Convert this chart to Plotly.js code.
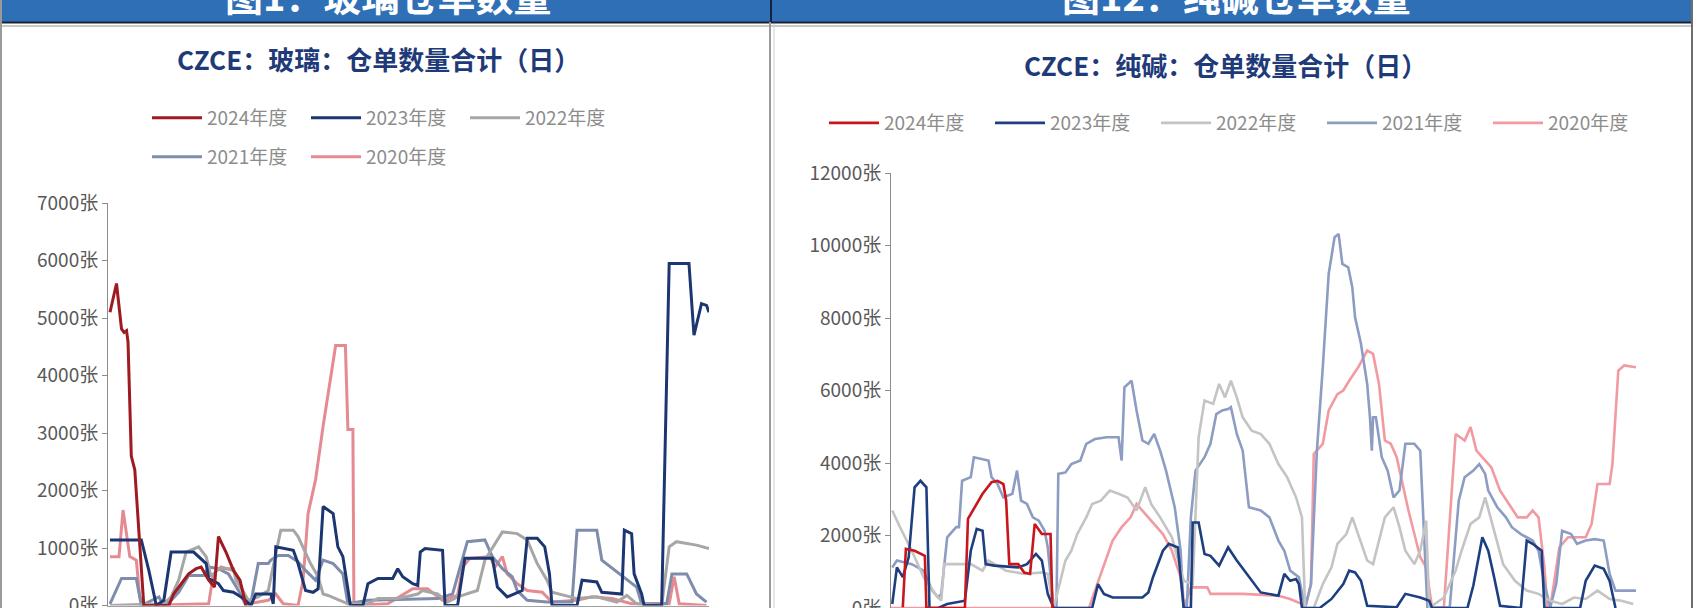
<!DOCTYPE html>
<html><head><meta charset="utf-8">
<script src="https://cdn.plot.ly/plotly-3.0.1.min.js"></script>
<style>html,body{margin:0;padding:0;background:#fff;}#chart{width:1697px;height:608px;}</style>
</head><body><div id="chart"></div>
<script>
// ---------- series names ----------
const seasonNames = ['2024年度','2023年度','2022年度','2021年度','2020年度'];
const headerTexts = ['图1：玻璃仓单数量','图12：纯碱仓单数量'];
const chartTitles = ['CZCE：玻璃：仓单数量合计（日）','CZCE：纯碱：仓单数量合计（日）'];

// ---------- Glass (玻璃) : trading day index / warehouse receipts ----------
const glassDay2024 = [0.8,3.4,5.4,6.4,7.4,8,9.3,10.7,12.3,14.3,24.3,26.2,32.2,35.2,37.2,40.2,42.5,44.1,47.1,50.1,52.7,54.1,55.1];
const glassVal2024 = [5100,5600,4810,4750,4780,4580,2600,2360,1310,0,0,200,550,640,670,440,320,1200,930,610,440,150,0];

const glassDay2023 = [0.8,13.3,16.3,19.3,22.3,25.2,34.2,36.2,39.2,40.2,44.1,46.1,50.1,54.1,57.1,59,65,66,67,74,75.9,78.9,81.9,83.9,85.9,89.9,91.8,93.8,96.8,101.8,103.8,107.8,113.7,115.7,117.7,121.7,123.7,124.7,126.6,133.6,134.6,139.6,142.5,147.5,153.5,155.5,159.4,165.4,167.4,171.4,174.4,176.3,177.3,187.3,189.3,195.2,197.2,205.2,206.2,209.1,210.1,213.1,214.1,221.1,224.1,232,234,237,239,240];
const glassVal2023 = [1140,1140,610,0,90,930,930,850,730,470,380,260,230,120,0,200,200,30,1020,960,730,260,230,290,1720,1600,1020,850,0,0,380,470,470,640,500,380,350,930,990,960,0,0,820,820,820,320,150,260,1170,1170,1020,550,0,0,440,410,230,200,1310,1250,550,200,0,0,5950,5950,4700,5250,5220,5100];

const glassDay2022 = [0.8,22.3,25.2,28.2,31.2,34.2,36.2,39.2,41.2,44.1,50.1,51.1,56.1,60,64,67,69,74,75.9,80.9,83.9,85.9,87.9,95.8,103.8,107.8,115.7,123.7,125.6,131.6,135.6,139.6,147.5,150.5,157.5,163.4,167.4,171.4,175.3,177.3,187.3,195.2,203.2,207.2,211.1,221.1,224.1,227,235,240];
const glassVal2022 = [0,30,150,440,930,990,1020,850,500,640,640,440,90,150,260,900,1310,1310,1200,730,500,200,175,30,30,120,120,200,260,200,60,150,260,790,1280,1250,1140,730,440,230,120,150,60,175,30,0,1020,1110,1050,990];

const glassDay2021 = [0.8,5.4,11.3,13.3,20.3,22.3,25.2,28.2,32.2,38.2,40.2,44.1,48.1,52.1,55.1,57.1,60,64,65,68,72,75.9,78.9,82.9,85.9,89.9,93.8,95.8,103.8,131.6,137.6,140.6,143.5,150.5,153.5,157.5,161.4,163.4,167.4,175.3,185.3,187.3,195.2,197.2,203.2,211.1,213.1,223.1,225.2,231.1,235,239];
const glassVal2021 = [30,470,470,0,150,0,90,230,520,520,670,640,550,260,0,60,730,730,790,870,870,760,610,440,790,730,550,30,90,120,200,670,1110,1140,850,640,500,260,90,60,60,1310,1310,790,580,320,30,30,550,550,200,60];

const glassDay2020 = [0.8,4.4,6,7.4,8.7,11.3,12.7,14.3,40.2,42.1,45.1,50.1,52.1,56.1,64,67,70,75.9,77.9,79.9,82.9,85.9,88.9,90.9,94.8,95.8,97.8,98.2,111.7,121.7,127.6,133.6,139.6,141.6,144.5,152.5,154.5,157.5,159.4,163.4,167.4,173.4,177.3,187.3,193.2,201.2,209.1,224.1,226.1,228.1,239];
const glassVal2020 = [850,850,1660,1250,850,790,150,0,30,550,670,610,440,30,90,200,30,0,440,1600,2190,3120,3940,4520,4520,3060,3060,0,30,290,290,90,175,670,820,850,670,850,550,380,260,230,60,90,150,120,30,30,500,30,0];

// ---------- Soda ash (纯碱) ----------
const sodaDay2024 = [3.8,4.8,7.6,10.9,11.4,23.8,24.8,26.7,29.5,32.4,34.3,36.2,37.1,38.1,41,42.9,44.8,46.3,48.6,51.4,52];
const sodaVal2024 = [20,1630,1580,1440,0,0,2460,2730,3150,3470,3510,3420,2960,1210,1210,980,940,2320,2040,2040,0];

const sodaDay2023 = [0.4,1.9,3.8,5.7,7.6,9.5,11.4,12.4,15.2,18.1,23.8,25.7,27.6,29.5,30.5,33.3,41,43.8,46.7,48.6,50.5,52.4,64.8,66.7,68.6,71.4,81,82.9,84.4,87.6,89.5,92.4,94.3,96.6,97.2,99.1,101,102.9,105.7,108.6,111.4,114.3,117.2,119.1,124.8,126.7,128.6,130.5,131.4,132.4,138.1,141.9,145.7,147.6,149.5,151.4,153.4,162.9,165.7,170.5,173.4,174.3,185.7,187.6,190.5,192.4,194.3,196.2,202.9,204.8,206.7,209.6,210.5,222,223.8,226.7,229.6,231.5,233.4];
const sodaVal2023 = [110,1120,850,1400,3330,3510,3330,0,0,110,200,1580,2180,2130,1210,1170,1120,1210,1490,1310,390,0,0,660,390,290,290,430,850,1580,1770,1670,0,0,2360,2360,1490,1440,1170,1670,1310,980,660,430,340,940,750,800,660,0,0,250,660,1030,980,750,60,20,390,290,200,0,0,620,1950,1580,850,60,0,1860,1770,1580,0,0,750,1170,1080,750,0];

const sodaDay2022 = [0.4,2.9,6.7,10.5,14.3,16.2,17.1,25.7,29.5,31.4,37.1,42.9,48.6,50.5,52.4,54.3,56.2,58.1,60,62.9,64.8,67.6,70.5,73.3,76.2,79.1,81.9,83.8,86.7,90.5,92.4,94.3,97.2,99.1,101,103.8,105.7,107.6,109.5,111.4,113.3,116.2,119.1,121.9,124.8,127.6,130.5,132.4,133.4,136.2,139.1,141.9,143.8,146.7,148.6,151.4,153.4,155.3,159.1,161.9,163.8,165.7,168.6,170.5,172.4,173.4,178.1,181.9,183.8,186.7,189.5,191.4,194.3,197.2,201,204.8,208.6,212.4,216.2,220,223.8,227.6,231.5,235.3,239.1];
const sodaVal2022 = [2690,2230,1580,850,390,200,1210,1210,1030,1310,1030,940,980,940,0,660,1310,1580,2040,2500,2870,2960,3240,3150,3050,2690,3330,2870,2500,1950,1310,750,660,4710,5720,5630,6180,5810,6270,5810,5260,4890,4800,4530,3970,3610,3050,2500,0,0,660,1120,1770,2040,2500,1770,1310,1210,2500,2780,2230,1580,1210,1580,2410,0,290,1030,1580,2320,2500,3050,2130,1210,750,480,390,200,110,290,250,480,250,200,110];

const sodaDay2021 = [0.4,1.9,6.7,10.5,13.3,15.2,16.2,18.1,21,21.9,22.9,25.7,26.7,31.4,32.4,34.3,36.2,39.1,40.6,41.9,43.8,45.7,47.6,49.5,50.5,52.4,53.3,53.9,56.2,58.1,61,62.9,65.7,69.5,73.3,74.3,75.2,77.5,79.1,81,82.9,84.8,86.7,88.6,91.4,93.3,94.3,95.3,96.6,98.1,101,102.9,104.8,106.7,108.6,109.5,111.4,113.3,115.3,119.1,121.9,124.8,126.7,128.6,131.4,133.4,135.3,137.2,139.1,141,142.9,144.2,145.4,147.3,148.6,149.5,151.4,153.4,154.3,154.9,155.3,156.2,158.1,160,161.9,163.8,165.7,168.6,170.5,171.5,172.8,180,182.9,184.8,187.6,189.5,191.4,192.4,195.3,198.1,200,202.9,206.7,208.6,210.5,212.4,214.3,216.2,219.1,221,223.8,226.7,229.6,231.5,233.4,240];
const sodaVal2021 = [1120,1310,1210,1030,480,290,390,1950,2230,2230,3510,3610,4160,4070,3610,3420,3050,3150,3790,2960,2870,2500,2410,2130,1670,0,20,3700,3740,3970,4070,4530,4660,4710,4710,4070,6090,6270,5450,4620,4530,4800,4340,3790,2780,1580,0,20,2500,3790,4160,4530,5350,5450,5490,5540,4800,4340,2780,2690,2500,1860,1580,1030,850,0,660,4340,6640,9220,10230,10320,9490,9400,8850,8020,7290,6180,5260,4340,5260,5260,4160,3790,3050,3240,4530,4530,4340,2500,0,20,2960,3610,3790,3970,3700,3240,2780,2500,2230,2040,1860,1580,660,20,660,2130,2040,1770,1860,1900,1860,940,480,480];

const sodaDay2020 = [0,63.8,65.7,68.6,71.4,74.3,77.2,79.1,81,83.8,87.6,90.5,93.3,94.3,96.6,101.9,102.9,113.3,124.8,128.6,132.4,133.4,135.3,136.2,139.1,141,143.8,145.7,147.6,150.5,153.4,155.3,157.2,159.1,161,162.9,164.8,166.7,168.6,170.5,172.4,174.3,178.1,181.9,184.8,186.7,188.6,191.4,193.4,196.2,199.1,201.9,204.8,206.7,208.6,210.5,211.5,212.4,215.3,218.1,223.8,225.7,227.6,231.5,232.4,234.3,236.2,240];
const sodaVal2020 = [0,0,480,1210,1860,2230,2500,2870,2690,2410,2040,1580,850,0,570,570,390,390,340,250,110,0,660,4250,4530,5450,5900,6000,6270,6640,7100,7010,6180,4620,4530,4160,3420,2690,2040,1400,1120,0,20,4800,4620,4990,4340,4070,3880,3240,2870,2500,2500,2690,2500,1120,0,20,1670,1950,1950,2320,3420,3420,3970,6550,6690,6640];

// ---------- styling ----------
const glassColors = ['#9e1b22','#1c3672','#a6a6a6','#7f8cab','#e58a90'];
const sodaColors  = ['#c8161d','#1d3f80','#c4c4c4','#8c9cc2','#f29aa1'];
const FONT = '"Noto Sans CJK SC", "Noto Sans", sans-serif';
const W = 1697, H = 608;
const px = v => v / W;
const py = v => 1 - v / H;

const glassX = [glassDay2024, glassDay2023, glassDay2022, glassDay2021, glassDay2020];
const glassY = [glassVal2024, glassVal2023, glassVal2022, glassVal2021, glassVal2020];
const sodaX = [sodaDay2024, sodaDay2023, sodaDay2022, sodaDay2021, sodaDay2020];
const sodaY = [sodaVal2024, sodaVal2023, sodaVal2022, sodaVal2021, sodaVal2020];

const traces = [];
const order = [4,3,2,1,0];
order.forEach(i => {
  traces.push({
    type:'scatter', mode:'lines', name: seasonNames[i],
    x: glassX[i], y: glassY[i], xaxis:'x', yaxis:'y',
    legend: i < 3 ? 'legend' : 'legend2', legendrank: i + 1,
    line:{color: glassColors[i], width: 3}, hoverinfo:'skip'
  });
});
order.forEach(i => {
  traces.push({
    type:'scatter', mode:'lines', name: seasonNames[i],
    x: sodaX[i], y: sodaY[i], xaxis:'x2', yaxis:'y2',
    legend: 'legend3', legendrank: i + 1,
    line:{color: sodaColors[i], width: 2.6}, hoverinfo:'skip'
  });
});

const tickFont = {family: FONT, size: 19, color:'#595959'};
const legendFont = {family: FONT, size: 19, color:'#8c8c8c'};
const baseX = {range:[0,240], showticklabels:false, showgrid:false, zeroline:false,
  showline:true, linecolor:'#a0a0a0', linewidth:1, ticks:'', fixedrange:true};
const baseY = {showgrid:false, zeroline:false, showline:true, linecolor:'#8c8c8c', linewidth:1,
  ticks:'outside', ticklen:5, tickcolor:'#8c8c8c', ticksuffix:'张', tickformat:'d',
  ticklabeloverflow:'allow', tickfont: tickFont, fixedrange:true};

const legendBase = {orientation:'h', font: legendFont, bgcolor:'rgba(0,0,0,0)', borderwidth:0,
  itemwidth: 50, traceorder:'normal', xanchor:'left', yanchor:'middle', itemclick:false, itemdoubleclick:false};

const shapes = [
  {type:'rect', xref:'paper', yref:'paper', x0:0, x1:px(1693), y0:py(22), y1:1, fillcolor:'#2f6fb5', line:{width:0}, layer:'below'},
  {type:'line', xref:'paper', yref:'paper', x0:0, x1:px(1693), y0:py(22.5), y1:py(22.5), line:{color:'#1b2434', width:2}},
  {type:'line', xref:'paper', yref:'paper', x0:0, x1:px(1693), y0:py(26), y1:py(26), line:{color:'#c9c9c9', width:2}},
  {type:'line', xref:'paper', yref:'paper', x0:px(771), x1:px(771), y0:py(22), y1:1, line:{color:'#14213d', width:2}},
  {type:'line', xref:'paper', yref:'paper', x0:px(770), x1:px(770), y0:0, y1:py(22), line:{color:'#9a9a9a', width:2}},
  {type:'line', xref:'paper', yref:'paper', x0:px(774), x1:px(774), y0:0, y1:py(24), line:{color:'#d0d0d0', width:1}},
  {type:'line', xref:'paper', yref:'paper', x0:px(1), x1:px(1), y0:0, y1:1, line:{color:'#9a9a9a', width:2}},
  {type:'line', xref:'paper', yref:'paper', x0:px(1692), x1:px(1692), y0:0, y1:1, line:{color:'#6e6e6e', width:2}}
];

const annotations = [
  {xref:'paper', yref:'paper', x:px(388), y:py(-5), text: headerTexts[0], showarrow:false, xanchor:'center', yanchor:'middle',
   font:{family: FONT, size: 38, color:'#ffffff', weight: 700}},
  {xref:'paper', yref:'paper', x:px(1236), y:py(-5), text: headerTexts[1], showarrow:false, xanchor:'center', yanchor:'middle',
   font:{family: FONT, size: 38, color:'#ffffff', weight: 700}},
  {xref:'paper', yref:'paper', x:px(378), y:py(58), text: chartTitles[0], showarrow:false, xanchor:'center', yanchor:'middle',
   font:{family: FONT, size: 26, color:'#1f3a78', weight: 700}},
  {xref:'paper', yref:'paper', x:px(1225), y:py(64), text: chartTitles[1], showarrow:false, xanchor:'center', yanchor:'middle',
   font:{family: FONT, size: 26, color:'#1f3a78', weight: 700}}
];

const layout = {
  width: W, height: H, margin:{l:0, r:0, t:0, b:0, pad:0},
  paper_bgcolor:'#ffffff', plot_bgcolor:'rgba(0,0,0,0)',
  showlegend: true, hovermode:false,
  font:{family: FONT},
  xaxis: Object.assign({}, baseX, {domain:[px(108), px(709)], anchor:'y'}),
  yaxis: Object.assign({}, baseY, {domain:[py(605.5), py(203)], range:[0,7000], dtick:1000, anchor:'x'}),
  xaxis2: Object.assign({}, baseX, {domain:[px(891), px(1636)], anchor:'y2'}),
  yaxis2: Object.assign({}, baseY, {domain:[0, py(173)], range:[0,12000], dtick:2000, anchor:'x2'}),
  legend: Object.assign({}, legendBase, {x: px(147), y: py(118), entrywidth: 94}),
  legend2: Object.assign({}, legendBase, {x: px(147), y: py(157), entrywidth: 94}),
  legend3: Object.assign({}, legendBase, {x: px(824), y: py(123), entrywidth: 101}),
  shapes: shapes,
  annotations: annotations
};

Plotly.newPlot('chart', traces, layout, {displayModeBar:false, staticPlot:true});
</script>
</body></html>
